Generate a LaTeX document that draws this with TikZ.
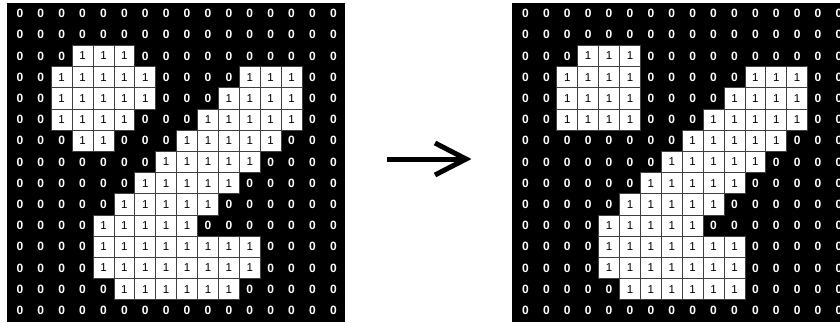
\documentclass[tikz,border=0pt]{standalone}
\usepackage{fontspec}
\setmainfont{Liberation Sans}
\begin{document}
\begin{tikzpicture}[x=1pt,y=-1pt,
  cellbase/.style={minimum width=20.9pt,minimum height=21.2pt,inner sep=0pt,outer sep=0pt,font=\fontsize{11.5}{11.5}\selectfont},
  cell0/.style={cellbase,text=white,font=\fontsize{12}{12}\selectfont\bfseries},
  cell1/.style={cellbase,fill=white,draw=black!75,line width=0.8pt,text=black},
  bg/.style={fill=black},
  arrowline/.style={line width=5pt,black}]
\path[use as bounding box] (0,0) rectangle (840,322);
\clip (0,0) rectangle (840,322);
\fill[white] (0,0) rectangle (840,322);
% backgrounds
\fill[bg] (7,3) rectangle (345,322);
\fill[bg] (512,3) rectangle (840,322);
% left grid
\foreach \rowdata [count=\r from 0] in {
 {0,0,0,0,0,0,0,0,0,0,0,0,0,0,0,0},
 {0,0,0,0,0,0,0,0,0,0,0,0,0,0,0,0},
 {0,0,0,1,1,1,0,0,0,0,0,0,0,0,0,0},
 {0,0,1,1,1,1,1,0,0,0,0,1,1,1,0,0},
 {0,0,1,1,1,1,1,0,0,0,1,1,1,1,0,0},
 {0,0,1,1,1,1,0,0,0,1,1,1,1,1,0,0},
 {0,0,0,1,1,0,0,0,1,1,1,1,1,0,0,0},
 {0,0,0,0,0,0,0,1,1,1,1,1,0,0,0,0},
 {0,0,0,0,0,0,1,1,1,1,1,0,0,0,0,0},
 {0,0,0,0,0,1,1,1,1,1,0,0,0,0,0,0},
 {0,0,0,0,1,1,1,1,1,0,0,0,0,0,0,0},
 {0,0,0,0,1,1,1,1,1,1,1,1,0,0,0,0},
 {0,0,0,0,1,1,1,1,1,1,1,1,0,0,0,0},
 {0,0,0,0,0,1,1,1,1,1,1,0,0,0,0,0},
 {0,0,0,0,0,0,0,0,0,0,0,0,0,0,0,0}} {
  \foreach \v [count=\c from 0] in \rowdata {
    \node[cell\v] (L-\r-\c) at ({9.4+\c*20.9+10.45},{3+\r*21.2+10.6}) {\v};
  }
}
% right grid
\foreach \rowdata [count=\r from 0] in {
 {0,0,0,0,0,0,0,0,0,0,0,0,0,0,0,0},
 {0,0,0,0,0,0,0,0,0,0,0,0,0,0,0,0},
 {0,0,0,1,1,1,0,0,0,0,0,0,0,0,0,0},
 {0,0,1,1,1,1,0,0,0,0,0,1,1,1,0,0},
 {0,0,1,1,1,1,0,0,0,0,1,1,1,1,0,0},
 {0,0,1,1,1,1,0,0,0,1,1,1,1,1,0,0},
 {0,0,0,0,0,0,0,0,1,1,1,1,1,0,0,0},
 {0,0,0,0,0,0,0,1,1,1,1,1,0,0,0,0},
 {0,0,0,0,0,0,1,1,1,1,1,0,0,0,0,0},
 {0,0,0,0,0,1,1,1,1,1,0,0,0,0,0,0},
 {0,0,0,0,1,1,1,1,1,0,0,0,0,0,0,0},
 {0,0,0,0,1,1,1,1,1,1,1,0,0,0,0,0},
 {0,0,0,0,1,1,1,1,1,1,1,0,0,0,0,0},
 {0,0,0,0,0,1,1,1,1,1,1,0,0,0,0,0},
 {0,0,0,0,0,0,0,0,0,0,0,0,0,0,0,0}} {
  \foreach \v [count=\c from 0] in \rowdata {
    \node[cell\v] (R-\r-\c) at ({515+\c*20.9+10.45},{3+\r*21.2+10.6}) {\v};
  }
}
% arrow
\coordinate (arrowstart) at (387,159);
\coordinate (arrowtip) at (466,159);
\draw[arrowline] (arrowstart) -- (arrowtip);
\draw[arrowline] ([shift={(-31,-16)}]arrowtip) -- (arrowtip) -- ([shift={(-31,16)}]arrowtip);
\end{tikzpicture}
\end{document}
